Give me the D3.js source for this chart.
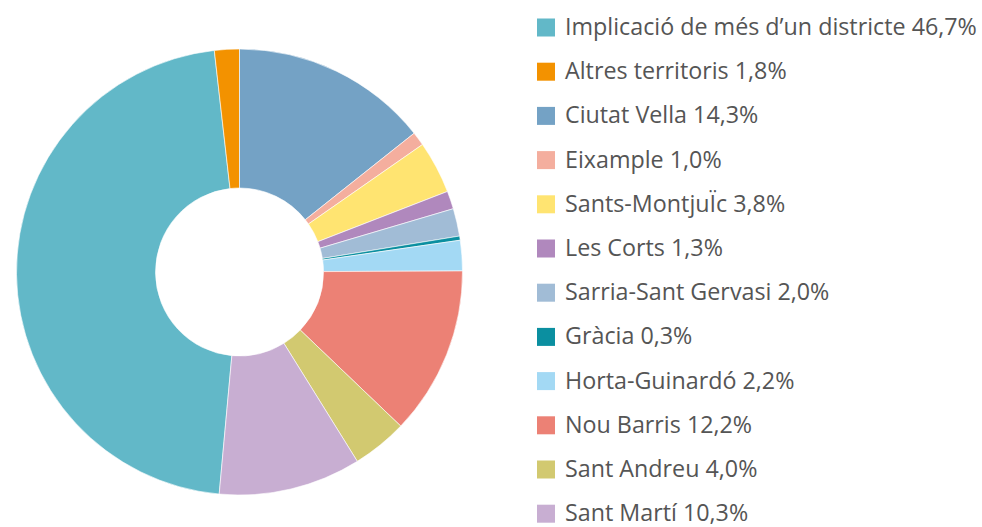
<!DOCTYPE html>
<html>
<head>
<meta charset="utf-8">
<script src="https://cdn.jsdelivr.net/npm/d3@7"></script>
<style>
	body{margin:0;background:#fff;}
	text{font-family:"Open Sans","Noto Sans",sans-serif;}
</style>
</head>
<body>
<div id="chart"></div>
<script>
// legend order
const labels = ['Implicació de més d’un districte','Altres territoris','Ciutat Vella','Eixample',
	'Sants-MontjuÏc','Les Corts','Sarria-Sant Gervasi','Gràcia','Horta-Guinardó',
	'Nou Barris','Sant Andreu','Sant Martí'];
const values = [46.7, 1.8, 14.3, 1.0, 3.8, 1.3, 2.0, 0.3, 2.2, 12.2, 4.0, 10.3];
const colors = ['#62b8c8','#f39200','#74a2c5','#f4ae9e','#ffe471','#b088bd',
	'#a1bcd6','#0b8fa0','#a3d9f4','#ec8175','#d2c970','#c8aed2'];

const W = 982, H = 527;
const cx = 239.5, cy = 272, R = 223, r0 = 84;

const data = labels.map((d,i) => ({key:d, value:values[i], color:colors[i]}));

const svg = d3.select('#chart').append('svg')
	.attr('width', W)
	.attr('height', H);

//Ciutat Vella starts at 12 o'clock, first two go at the end
const total = d3.sum(values);
const offset = -2*Math.PI*(values[0]+values[1])/total;

const pie = d3.pie()
	.sort(null)
	.value(d => d.value)
	.startAngle(offset)
	.endAngle(offset + 2*Math.PI);

const arc = d3.arc()
	.innerRadius(r0)
	.outerRadius(R);

svg.append('g')
	.attr('transform', `translate(${cx},${cy})`)
	.selectAll('path')
	.data(pie(data))
	.enter()
	.append('path')
	.attr('d', arc)
	.style('fill', d => d.data.color)
	.style('stroke', '#fff')
	.style('stroke-width', 0.6);

//Legend
const y = d3.scaleBand()
	.domain(labels)
	.range([5.5, 5.5 + 44.2*labels.length]);

const leg = svg.append('g')
	.selectAll('.item')
	.data(data)
	.enter()
	.append('g')
	.attr('class','item')
	.attr('transform', d => `translate(537,${y(d.key)})`);

leg.append('rect')
	.attr('width', 18)
	.attr('height', 18)
	.attr('y', 13)
	.style('fill', d => d.color);

leg.append('text')
	.attr('x', 28)
	.attr('y', 29.5)
	.style('font-size','21px')
	.style('fill','#555')
	.text(d => `${d.key} ${d3.format('.1f')(d.value).replace('.',',')}%`);

//fit first label width to the reference (~412px)
const first = leg.select('text').node();
const wFirst = first.getComputedTextLength();
if (wFirst > 0) leg.selectAll('text').style('font-size', (21*412/wFirst).toFixed(2)+'px');
</script>
</body>
</html>
